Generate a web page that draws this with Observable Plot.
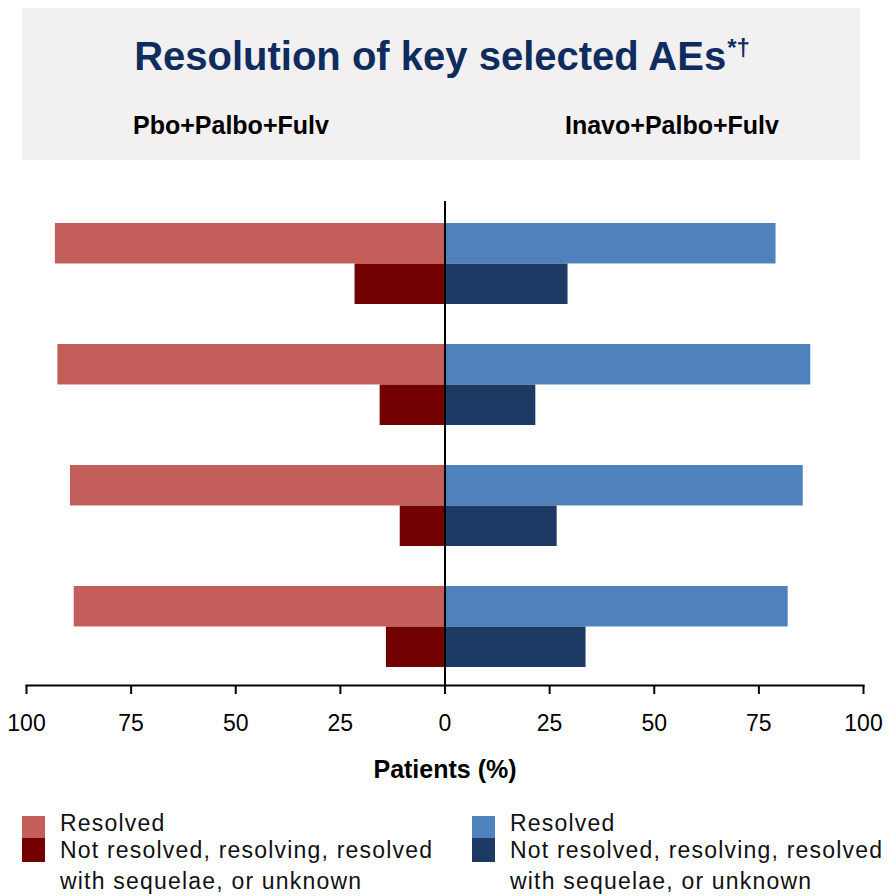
<!DOCTYPE html>
<html>
<head>
<meta charset="utf-8">
<script src="https://cdn.jsdelivr.net/npm/d3@7"></script>
<script src="https://cdn.jsdelivr.net/npm/@observablehq/plot@0.6"></script>
<style>
  body { margin: 0; background: #fff; font-family: "Liberation Sans", Arial, sans-serif; }
  #page { position: relative; width: 896px; height: 896px; overflow: hidden; background: #fff; }
  .header { position: absolute; left: 22px; top: 8px; width: 838px; height: 152px; background: #f2f0f1; }
  .title { position: absolute; left: 0; width: 884px; top: 36px; text-align: center;
           font-weight: bold; font-size: 40px; line-height: 1; color: #0e2c5e; white-space: nowrap; }
  .title sup { font-size: 0.6em; position: relative; top: -0.6em; vertical-align: baseline; margin-left: 1px; }
  .arm { position: absolute; top: 113px; font-weight: bold; font-size: 25px; line-height: 1; color: #000; white-space: nowrap; }
  #chart { position: absolute; left: 0; top: 190px; }
  .swatch { position: absolute; width: 23px; }
  .ltext { position: absolute; top: 810px; font-size: 23px; letter-spacing: 1.2px; color: #111; white-space: nowrap; }
  .ltext span { display: block; line-height: 27px; }
  .ltext span.wrap { margin-top: 4px; }
</style>
</head>
<body>
<div id="page">
  <div class="header"></div>
  <div class="title">Resolution of key selected AEs<sup>*†</sup></div>
  <div class="arm" id="armLeft" style="left:133px"></div>
  <div class="arm" id="armRight" style="left:565px"></div>
  <div id="chart"></div>
  <div id="legend"></div>
</div>
<script>
// Adverse events, top to bottom
const events = ["AE 1", "AE 2", "AE 3", "AE 4"];
const arms = ["Pbo+Palbo+Fulv", "Inavo+Palbo+Fulv"];
const statuses = ["Resolved", "Not resolved, resolving, resolved with sequelae, or unknown"];

// Patients (%) per event
const pboResolved = [93.1, 92.5, 89.5, 88.6];
const pboNotResolved = [21.5, 15.5, 10.7, 14.0];
const inavoResolved = [79.1, 87.4, 85.6, 82.0];
const inavoNotResolved = [29.4, 21.7, 26.8, 33.7];

const xTicks = [-100, -75, -50, -25, 0, 25, 50, 75, 100];

const colors = {
  "Pbo+Palbo+Fulv|Resolved": "#c45e5a",
  "Pbo+Palbo+Fulv|Not resolved": "#720000",
  "Inavo+Palbo+Fulv|Resolved": "#4f81bd",
  "Inavo+Palbo+Fulv|Not resolved": "#1c3a63"
};

// Placebo arm drawn to the left of zero, inavolisib arm to the right
const rows = [];
events.forEach((e, i) => {
  rows.push({event: e, key: "Pbo+Palbo+Fulv|Resolved", status: "R", x: -pboResolved[i]});
  rows.push({event: e, key: "Pbo+Palbo+Fulv|Not resolved", status: "N", x: -pboNotResolved[i]});
  rows.push({event: e, key: "Inavo+Palbo+Fulv|Resolved", status: "R", x: inavoResolved[i]});
  rows.push({event: e, key: "Inavo+Palbo+Fulv|Not resolved", status: "N", x: inavoNotResolved[i]});
});

const W = 896, H = 600, mT = 11, mB = 105, mL = 26, mR = 33;
const padIn = 0.332, padOut = 0.16;
// each event band holds two stacked bars of equal height
const step = (H - mT - mB) / (events.length - padIn + 2 * padOut);
const half = step * (1 - padIn) / 2;

const chart = Plot.plot({
  width: W,
  height: H,
  marginTop: mT,
  marginBottom: mB,
  marginLeft: mL,
  marginRight: mR,
  style: {fontFamily: "'Liberation Sans', Arial, sans-serif", color: "#000", background: "transparent"},
  x: {domain: [-100, 100], axis: null},
  y: {domain: events, type: "band", paddingInner: padIn, paddingOuter: padOut, align: 0.55, axis: null},
  color: {domain: Object.keys(colors), range: Object.values(colors)},
  marks: [
    Plot.barX(rows.filter(d => d.status === "R"), {y: "event", x: "x", fill: "key", insetBottom: half}),
    Plot.barX(rows.filter(d => d.status === "N"), {y: "event", x: "x", fill: "key", insetTop: half}),
    Plot.ruleX([0], {stroke: "#000", strokeWidth: 2}),
    Plot.frame({anchor: "bottom", stroke: "#000", strokeWidth: 2}),
    Plot.axisX({ticks: xTicks, tickFormat: d => Math.abs(d), tickSize: 9, tickPadding: 20,
                fontSize: 23, strokeWidth: 2, label: null, stroke: "#000", fill: "#000"}),
    Plot.text(["Patients (%)"], {text: d => d, frameAnchor: "bottom", dy: 84, lineAnchor: "middle",
                fontWeight: "bold", fontSize: 25, fill: "#000"})
  ]
});
document.getElementById("chart").appendChild(chart);

document.getElementById("armLeft").textContent = arms[0];
document.getElementById("armRight").textContent = arms[1];

// Legend: one two-tone swatch per arm, labels stacked beside it
const legend = document.getElementById("legend");
const legendItems = [
  {left: 22, arm: arms[0]},
  {left: 472, arm: arms[1]}
];
legendItems.forEach(item => {
  const top = document.createElement("div");
  top.className = "swatch";
  top.style.cssText = `left:${item.left}px;top:816px;height:22px;background:${colors[item.arm + "|Resolved"]}`;
  const bottom = document.createElement("div");
  bottom.className = "swatch";
  bottom.style.cssText = `left:${item.left}px;top:838px;height:24px;background:${colors[item.arm + "|Not resolved"]}`;
  legend.append(top, bottom);

  const words = statuses[1].split(" ");
  const block = document.createElement("div");
  block.className = "ltext";
  block.style.left = (item.left + 38) + "px";
  [
    {text: statuses[0], cls: ""},
    {text: words.slice(0, 4).join(" "), cls: ""},
    {text: words.slice(4).join(" "), cls: "wrap"}
  ].forEach(l => {
    const s = document.createElement("span");
    if (l.cls) s.className = l.cls;
    s.textContent = l.text;
    block.append(s);
  });
  legend.append(block);
});
</script>
</body>
</html>
